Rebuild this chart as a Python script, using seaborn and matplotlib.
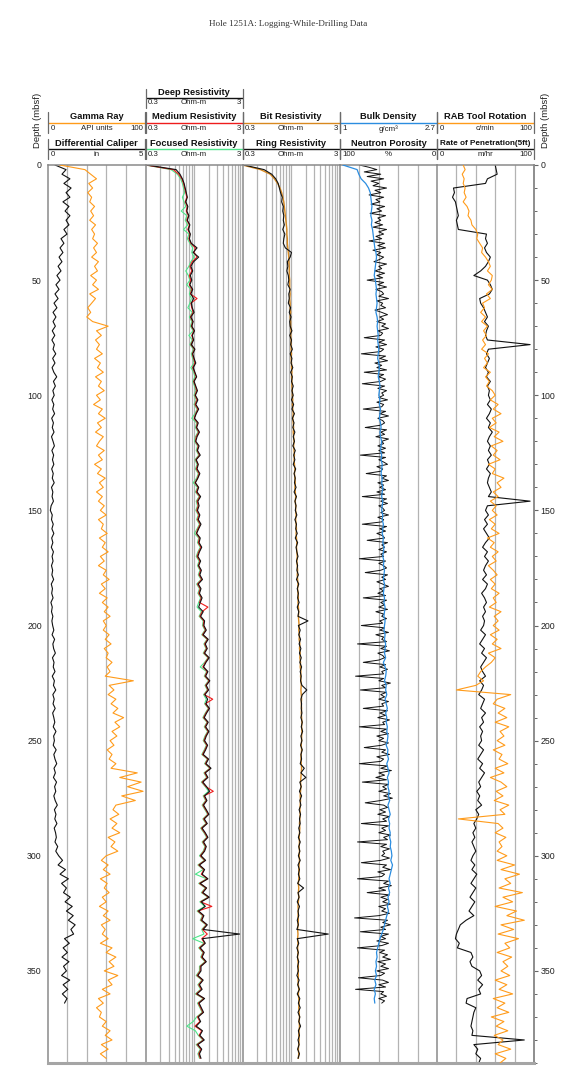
import numpy as np
import matplotlib
matplotlib.use("Agg")
import matplotlib.pyplot as plt
import seaborn as sns
from matplotlib.ticker import MultipleLocator

sns.set_style("white")
plt.rcParams['font.family'] = ['Liberation Sans', 'DejaVu Sans']

# ---------------- data ----------------
DEPTH = np.arange(0, 392, 2)    # 2 m sampling grid (mbsf)
DEPTH1 = np.arange(0, 392, 1)   # 1 m sampling grid (mbsf)

CALIPER = [0.36,0.93,0.72,1.13,0.82,1.19,0.93,1.13,0.77,1.08,0.88,1.13,0.93,1.08,0.82,0.98,0.67,0.82,0.62,0.77,
           0.57,0.72,0.52,0.67,0.46,0.62,0.41,0.57,0.36,0.52,0.31,0.46,0.26,0.41,0.26,
           0.38,0.22,0.35,0.20,0.33,0.26,0.40,0.24,0.36,0.21,0.30,0.45,0.28,0.38,0.25,
           0.32,0.20,0.30,0.24,0.34,0.19,0.28,0.22,0.31,0.18,0.26,0.33,0.20,0.29,0.23,0.30,0.19,0.27,0.22,0.32,0.18,0.25,0.21,0.28,0.16,
           0.12,0.22,0.18,0.27,0.20,0.30,0.19,0.25,0.17,0.28,0.21,0.26,0.18,0.24,0.20,0.29,0.17,0.23,0.19,0.26,0.15,0.22,0.18,0.25,0.20,
           0.24,0.30,0.21,0.34,0.25,0.29,0.38,0.23,0.31,0.27,0.36,0.22,0.33,0.28,0.40,0.25,0.32,0.26,0.37,0.24,0.30,0.35,0.27,0.41,0.29,
           0.33,0.27,0.42,0.30,0.36,0.45,0.31,0.38,0.28,0.44,0.34,0.40,0.30,0.37,0.48,0.33,0.41,0.35,0.46,0.32,0.39,0.43,0.36,0.50,0.40,
           0.55,0.75,0.52,0.90,0.62,1.05,0.70,0.95,0.80,1.15,0.88,1.25,0.95,1.30,1.05,1.40,1.18,1.32,0.85,1.10,0.78,1.00,0.72,1.08,0.80,
           0.95,0.70,1.12,0.78,1.02,0.74,0.98,0.85]

GAMMA = [12,38,44,50,42,46,41,45,43,48,44,47,43,49,45,48,46,51,47,50,45,52,48,51,44,50,46,52,43,49,45,41,44,40,46,62,50,55,49,53,
         50,56,48,54,51,57,49,55,52,58,50,54,47,56,52,59,51,55,49,57,53,50,58,52,56,48,55,51,59,53,57,50,56,52,58,
         54,60,52,57,55,61,53,59,56,62,54,58,52,60,57,63,55,59,53,61,56,62,58,64,57,
         60,57,63,59,65,58,62,60,66,61,64,59,88,63,68,62,70,65,72,67,78,69,74,66,71,
         64,68,61,66,63,70,65,92,74,96,82,98,76,90,70,67,73,64,71,66,74,62,69,65,72,
         60,55,62,57,64,54,61,58,63,56,60,53,62,57,64,55,59,56,62,54,66,60,70,63,68,
         58,72,62,66,56,64,52,57,50,55,53,60,56,64,59,66,55,62,54,60]

RES_DEEP = [0.31,0.62,0.68,0.72,0.75,0.77,0.79,0.81,0.78,0.82,0.80,0.84,0.81,0.86,0.83,0.87,0.85,0.89,1.02,0.93,1.06,0.94,0.88,0.92,0.87,
            0.90,0.86,0.92,0.88,0.94,0.89,0.91,0.95,0.88,0.93,0.90,0.96,0.91,0.94,0.89,0.97,0.92,0.95,0.99,0.93,0.97,1.01,0.95,0.99,1.03,
            0.98,1.04,0.99,1.06,1.00,0.96,1.05,1.01,1.08,1.02,0.99,1.07,1.03,1.10,1.00,1.05,1.02,1.09,1.04,0.98,1.06,1.02,1.11,1.04,1.07,
            1.03,1.09,1.05,1.12,1.06,1.01,1.10,1.07,1.14,1.08,1.04,1.11,1.06,1.13,1.09,1.16,1.05,1.12,1.08,1.15,1.10,1.06,1.18,1.11,1.22,
            1.20,1.27,1.18,1.33,1.24,1.30,1.22,1.36,1.26,1.19,1.32,1.25,1.38,1.27,1.34,1.23,1.31,1.26,1.37,1.28,1.21,1.33,1.25,1.35,1.27,
            1.22,1.31,1.25,1.18,1.34,1.26,1.42,1.24,1.32,1.17,1.28,1.37,1.22,1.29,1.19,1.27,1.35,1.21,1.30,1.15,1.24,1.32,1.19,1.27,1.22,
            1.12,1.25,1.08,1.22,1.15,1.32,1.10,1.28,1.17,1.36,1.13,1.24,1.06,1.20,1.14,1.30,1.18,2.80,1.16,1.24,1.10,1.21,1.15,1.27,1.12,
            1.12,1.04,1.18,1.08,1.15,1.02,1.22,1.07,1.13,1.19,1.05,1.11,1.00,1.16,1.09,1.21,1.04,1.14,1.08,1.12]

RES_MED = [0.30,0.58,0.66,0.71,0.74,0.76,0.78,0.80,0.77,0.81,0.79,0.83,0.80,0.85,0.82,0.86,0.84,0.88,0.98,0.95,1.02,0.91,0.86,0.90,0.85,
           0.88,0.85,0.90,0.87,1.02,0.88,0.90,0.93,0.87,0.92,0.89,0.95,0.90,0.93,0.88,0.96,0.91,0.94,0.97,0.92,0.96,1.00,0.94,0.98,1.01,
           0.97,1.02,0.97,1.04,0.99,0.95,1.03,1.00,1.06,1.00,0.98,1.05,1.02,1.08,0.99,1.04,1.00,1.07,1.03,0.97,1.05,1.00,1.09,1.02,1.05,
           1.01,1.07,1.03,1.10,1.04,1.00,1.08,1.05,1.12,1.06,1.02,1.09,1.05,1.11,1.07,1.14,1.03,1.10,1.06,1.13,1.08,1.32,1.15,1.09,1.20,
           1.18,1.25,1.16,1.31,1.22,1.28,1.20,1.34,1.24,1.17,1.30,1.23,1.36,1.25,1.32,1.21,1.48,1.24,1.35,1.26,1.19,1.31,1.23,1.33,1.25,
           1.20,1.29,1.23,1.16,1.32,1.24,1.40,1.22,1.30,1.15,1.26,1.50,1.20,1.27,1.17,1.25,1.33,1.19,1.28,1.13,1.22,1.30,1.17,1.25,1.20,
           1.10,1.23,1.06,1.20,1.13,1.30,1.08,1.26,1.15,1.34,1.11,1.45,1.04,1.18,1.12,1.28,1.16,1.30,1.14,1.22,1.08,1.19,1.13,1.25,1.10,
           1.10,1.02,1.16,1.06,1.13,1.00,1.20,1.05,1.11,1.17,1.03,1.09,0.97,1.14,1.07,1.19,1.02,1.12,1.06,1.10]

RES_FOC = [0.30,0.55,0.64,0.69,0.72,0.74,0.76,0.72,0.75,0.78,0.70,0.80,0.77,0.82,0.74,0.84,0.81,0.86,0.92,0.90,0.95,0.88,0.84,0.78,0.83,
           0.86,0.80,0.88,0.85,0.89,0.86,0.82,0.91,0.85,0.90,0.87,0.93,0.84,0.91,0.86,0.94,0.89,0.92,0.95,0.88,0.94,0.97,0.92,0.96,0.99,
           0.95,1.00,0.95,1.02,0.97,0.90,1.01,0.98,1.04,0.98,0.96,1.03,1.00,1.06,0.97,1.02,0.98,1.05,1.01,0.93,1.03,0.98,1.07,1.00,1.03,
           0.99,1.05,1.01,1.08,1.02,0.96,1.06,1.03,1.10,1.04,1.00,1.07,1.03,1.09,1.05,1.12,1.01,1.08,1.04,1.11,1.06,1.02,1.13,1.07,1.18,
           1.16,1.23,1.14,1.29,1.20,1.26,1.18,1.32,1.22,1.10,1.28,1.21,1.34,1.23,1.30,1.19,1.27,1.22,1.33,1.24,1.17,1.29,1.21,1.31,1.23,
           1.18,1.27,1.21,1.14,1.30,1.22,1.38,1.20,1.28,1.13,1.24,1.34,1.18,1.25,1.15,1.23,1.31,1.17,1.26,1.11,1.20,1.28,1.15,1.23,1.18,
           1.08,1.21,1.04,1.18,0.98,1.28,1.06,1.24,1.13,1.32,1.09,1.22,1.02,1.16,1.10,1.26,1.14,1.20,0.92,1.20,1.06,1.17,1.11,1.23,1.08,
           1.08,1.00,1.14,1.04,1.11,0.98,1.18,1.03,1.09,1.15,1.01,0.93,0.80,0.98,1.05,1.17,1.00,1.10,1.04,1.08]

RES_BIT = [0.30,0.46,0.58,0.64,0.69,0.73,0.76,0.78,0.80,0.81,0.82,0.83,0.84,0.85,0.86,0.86,0.87,0.87,0.88,0.89,0.90,0.90,0.91,0.91,0.91,
           0.92,0.92,0.92,0.93,0.92,0.93,0.93,0.94,0.93,0.94,0.94,0.95,0.94,0.95,0.95,0.95,0.96,0.95,0.96,0.96,0.97,0.96,0.97,0.97,0.98,
           0.98,0.99,0.98,0.99,1.00,0.99,1.00,1.01,1.00,1.01,1.02,1.01,1.02,1.03,1.02,1.03,1.04,1.03,1.04,1.05,1.04,1.05,1.06,1.05,1.06,
           1.06,1.07,1.06,1.07,1.08,1.07,1.08,1.09,1.08,1.09,1.10,1.09,1.10,1.11,1.10,1.11,1.12,1.11,1.12,1.13,1.12,1.13,1.14,1.13,1.14,
           1.15,1.14,1.16,1.15,1.17,1.16,1.18,1.17,1.19,1.18,1.20,1.19,1.20,1.21,1.20,1.21,1.22,1.21,1.22,1.21,1.22,1.23,1.22,1.23,1.22,
           1.22,1.21,1.22,1.21,1.20,1.21,1.22,1.21,1.20,1.19,1.20,1.19,1.18,1.19,1.18,1.17,1.18,1.17,1.16,1.17,1.16,1.15,1.16,1.15,1.16,
           1.15,1.16,1.15,1.14,1.15,1.14,1.13,1.14,1.13,1.14,1.13,1.12,1.13,1.12,1.13,1.12,1.11,1.12,1.11,1.12,1.11,1.12,1.11,1.12,1.13,
           1.12,1.13,1.12,1.13,1.14,1.13,1.14,1.15,1.14,1.15,1.16,1.15,1.16,1.15,1.14,1.15,1.14,1.13,1.14,1.13]

RES_RING = [0.31,0.50,0.60,0.66,0.70,0.72,0.74,0.77,0.76,0.79,0.78,0.80,0.79,0.81,0.78,0.82,0.80,0.79,0.83,0.96,0.93,0.87,0.88,0.86,0.89,
            0.90,0.88,0.93,0.90,0.91,0.89,0.94,0.91,0.95,0.92,0.93,0.97,0.92,0.96,0.94,0.98,0.93,0.97,0.95,0.99,0.94,0.98,0.96,1.00,0.97,
            1.00,0.96,1.01,0.97,1.03,0.98,1.02,0.99,1.04,1.00,1.03,0.99,1.05,1.01,1.04,1.00,1.06,1.02,1.05,1.03,1.07,1.02,1.08,1.04,1.07,
            1.05,1.09,1.04,1.08,1.06,1.10,1.05,1.11,1.07,1.09,1.12,1.08,1.11,1.09,1.13,1.08,1.14,1.10,1.13,1.11,1.15,1.10,1.14,1.12,1.42,
            1.13,1.18,1.14,1.19,1.15,1.20,1.16,1.21,1.17,1.22,1.18,1.21,1.19,1.23,1.38,1.24,1.20,1.22,1.21,1.23,1.20,1.24,1.21,1.25,1.20,
            1.23,1.19,1.24,1.20,1.22,1.18,1.30,1.20,1.35,1.17,1.21,1.16,1.22,1.17,1.20,1.15,1.19,1.16,1.18,1.14,1.17,1.13,1.18,1.14,1.17,
            1.13,1.18,1.12,1.16,1.13,1.17,1.11,1.28,1.12,1.15,1.10,1.16,1.12,1.14,1.10,1.13,1.09,2.30,1.10,1.14,1.09,1.13,1.10,1.14,1.11,
            1.13,1.09,1.15,1.11,1.16,1.10,1.17,1.13,1.18,1.12,1.17,1.14,1.19,1.13,1.16,1.12,1.15,1.11,1.16,1.12]

DENSITY = [1.05,1.30,1.33,1.37,1.45,1.50,1.53,1.54,1.55,1.56,1.55,1.54,1.56,1.55,1.57,1.58,1.59,1.60,1.61,1.63,1.64,1.63,1.62,1.61,1.60,
           1.62,1.63,1.64,1.63,1.64,1.65,1.64,1.63,1.65,1.66,1.65,1.66,1.67,1.66,1.67,1.68,1.67,1.66,1.68,1.69,1.68,1.67,1.69,1.70,1.69,
           1.68,1.70,1.69,1.71,1.70,1.69,1.71,1.72,1.70,1.71,1.73,1.72,1.71,1.73,1.72,1.74,1.73,1.72,1.74,1.73,1.75,1.74,1.73,1.75,1.74,
           1.73,1.75,1.74,1.76,1.75,1.74,1.76,1.75,1.77,1.76,1.75,1.77,1.76,1.78,1.77,1.76,1.78,1.77,1.76,1.78,1.77,1.79,1.78,1.77,1.79,
           1.78,1.77,1.79,1.78,1.80,1.79,1.78,1.80,1.76,1.79,1.81,1.80,1.78,1.81,1.80,1.82,1.79,1.81,1.83,1.80,1.82,1.81,1.83,1.82,1.84,
           1.83,1.81,1.84,1.83,1.85,1.82,1.84,1.86,1.83,1.85,1.84,1.86,1.85,1.87,1.84,1.86,1.88,1.85,1.87,1.86,1.88,1.87,1.89,1.88,1.90,
           1.91,1.89,1.92,1.90,1.88,1.86,1.88,1.85,1.87,1.84,1.86,1.83,1.85,1.82,1.80,1.78,1.76,1.73,1.70,1.68,1.66,1.64,1.65,1.63,1.64,
           1.62,1.64,1.61,1.63,1.60,1.62,1.60,1.61]

# neutron porosity (%), 1 m sampling
NEUTRON = [80,70,62,75,58,72,55,68,60,66,52,64,58,70,55,63,59,68,54,62,57,69,53,61,58,
           64,56,66,52,60,55,63,57,70,54,61,53,66,58,62,55,59,65,52,60,57,64,54,62,56,
           72,55,61,52,63,57,55,60,50,62,56,58,53,64,57,51,59,55,62,53,57,50,61,56,58,
           75,54,60,52,63,55,58,78,53,59,51,64,57,62,52,75,55,60,53,58,77,54,61,52,57,
           55,60,51,62,55,57,76,53,59,50,61,56,54,58,74,52,58,54,63,50,57,55,61,53,60,
           54,79,53,60,55,51,62,56,58,73,52,57,50,61,55,59,53,62,54,77,52,58,51,60,56,
           54,58,50,61,55,57,77,52,59,53,62,56,54,72,51,57,54,60,52,58,55,80,53,60,55,
           52,58,74,51,57,53,62,56,50,59,55,61,53,76,52,58,54,60,51,63,55,57,52,59,56,
           78,54,59,50,63,55,57,52,82,52,58,49,61,56,54,60,76,53,59,51,57,55,84,55,60,
           48,57,53,79,52,58,54,60,50,57,55,76,51,59,53,61,49,56,54,80,52,58,50,62,55,
           60,50,57,75,53,57,49,62,55,58,80,51,58,47,60,54,63,52,77,50,56,52,60,48,55,
           46,58,74,55,51,59,53,61,49,56,52,78,50,57,53,60,48,55,51,82,52,58,49,56,54,
           57,49,58,78,52,56,48,61,54,57,82,50,55,47,60,53,72,49,58,51,56,48,60,53,57,
           49,60,85,51,56,48,58,53,79,50,58,53,62,50,57,82,54,59,51,56,48,61,53,58,50,
           62,54,58,81,56,50,60,53,84,55,58,52,60,54,57]

RAB_ROT = [27,29,26,28,27,29,28,30,27,31,33,32,35,36,40,42,41,44,47,46,50,53,55,52,57,
           56,53,57,51,55,47,49,45,50,46,52,48,51,47,50,46,53,49,52,48,55,50,54,51,57,
           60,55,63,58,66,57,61,54,64,59,68,56,62,58,65,53,60,57,69,62,66,58,63,55,61,
           57,62,54,60,56,64,52,59,55,63,57,61,53,58,62,55,60,56,64,58,61,54,66,59,63,
           58,64,55,62,57,66,53,60,56,50,45,42,48,40,20,76,62,58,70,63,72,60,74,65,69,
           62,70,58,67,64,73,60,69,55,66,72,61,68,59,74,65,70,22,63,68,60,71,64,67,62,
           72,62,80,66,85,70,76,64,88,68,78,60,82,72,90,66,79,63,84,70,75,62,77,68,73,
           66,75,60,72,64,78,58,70,62,74,56,69,61,73,59,68,63,76,60,71,65]

ROP = [60,61,62,52,50,17,18,16,19,20,21,22,20,21,22,51,50,52,49,51,55,53,50,45,38,
       52,55,57,54,44,45,48,50,52,49,53,51,50,52,96,53,51,54,52,50,53,51,55,52,54,
       53,55,52,56,54,51,55,53,57,54,52,55,53,56,52,54,51,55,53,52,54,56,53,96,52,
       50,53,49,52,48,51,54,50,47,52,49,53,50,48,51,47,52,50,46,49,51,48,50,47,49,
       48,45,50,47,44,49,46,51,48,45,47,50,44,48,46,43,49,47,45,50,46,48,44,47,45,
       46,43,48,45,42,47,44,49,46,43,45,41,44,42,46,40,43,41,38,40,37,39,36,38,40,
       37,35,39,36,41,38,35,40,37,34,39,36,33,38,30,24,22,20,19,23,21,35,37,34,36,
       44,46,42,47,43,45,31,30,40,38,37,36,35,37,36,90,38,42,40,45,43]

DEPTH_TICKS = [0, 50, 100, 150, 200, 250, 300, 350]

# ---------------- colours ----------------
ORANGE = '#ff9b1a'
BITC = '#d8891f'
RED = '#ee1c1c'
GREEN = '#4fe58a'
BLUE = '#2b8de0'
BLACK = '#111111'
GRID = '#b3b3b3'
SPINE = '#8a8a8a'

# ---------------- figure & layout (pixel based) ----------------
W, H = 576, 1090
fig = plt.figure(figsize=(W / 100, H / 100), dpi=100)
TOP, BOT = 165, 1063
LEFTS = [48, 145.5, 242.5, 340, 437]
TW = 97
YMAX = 390


def add_track(L):
    return fig.add_axes([L / W, 1 - BOT / H, TW / W, (BOT - TOP) / H])


def draw(ax, vals, color, lw=0.8, grid=DEPTH):
    d = grid[:len(vals)]
    sns.lineplot(x=np.asarray(vals, dtype=float), y=d, orient='y', sort=False,
                 estimator=None, color=color, lw=lw, ax=ax, legend=False)
    ax.set_xlabel('')
    ax.set_ylabel('')


def twin(ax, lo, hi, log=False):
    a2 = ax.twiny()
    if log:
        a2.set_xscale('log')
    a2.set_xlim(lo, hi)
    for s in a2.spines.values():
        s.set_visible(False)
    a2.tick_params(top=False, labeltop=False, bottom=False, labelbottom=False)
    return a2


axes = [add_track(L) for L in LEFTS]

LIN_FR = [0.2, 0.4, 0.6, 0.8]
LOG_FR = [np.log10(k) / 2 for k in range(2, 11)] + [0.5 + np.log10(k) / 2 for k in range(2, 10)]

# Track 1: caliper (black, 0-5 in) + gamma (orange, 0-100 API)
a = axes[0]
a.set_xlim(0, 5)
for f in LIN_FR:
    a.axvline(5 * f, color=GRID, lw=0.9, zorder=0.5)
draw(a, CALIPER, BLACK)
a2 = twin(a, 0, 100)
draw(a2, GAMMA, ORANGE)

# Track 2: resistivities (log 0.3-3)
a = axes[1]
a.set_xscale('log')
a.set_xlim(0.3, 3)
for f in LOG_FR:
    a.axvline(0.3 * 10 ** f, color=GRID, lw=0.9, zorder=0.5)
draw(a, RES_FOC, GREEN)
draw(a, RES_MED, RED)
draw(a, RES_DEEP, BLACK)
a.set_xlim(0.3, 3)

# Track 3: bit + ring resistivity
a = axes[2]
a.set_xscale('log')
a.set_xlim(0.3, 3)
for f in LOG_FR:
    a.axvline(0.3 * 10 ** f, color=GRID, lw=0.9, zorder=0.5)
draw(a, RES_BIT, BITC, lw=1.0)
draw(a, RES_RING, BLACK)
a.set_xlim(0.3, 3)

# Track 4: neutron (100-0 %) + density (1-2.7)
a = axes[3]
a.set_xlim(100, 0)
for f in LIN_FR:
    a.axvline(100 - 100 * f, color=GRID, lw=0.9, zorder=0.5)
draw(a, NEUTRON, BLACK, lw=0.7, grid=DEPTH1)
a2 = twin(a, 1, 2.7)
draw(a2, DENSITY, BLUE, lw=0.9)

# Track 5: ROP (black) + RAB rotation (orange)
a = axes[4]
a.set_xlim(0, 100)
for f in LIN_FR:
    a.axvline(100 * f, color=GRID, lw=0.9, zorder=0.5)
draw(a, ROP, BLACK)
a2 = twin(a, 0, 100)
draw(a2, RAB_ROT, ORANGE)
a.set_xlim(0, 100)

for i, a in enumerate(axes):
    a.set_ylim(YMAX, 0)
    a.set_xticks([])
    a.xaxis.set_minor_locator(matplotlib.ticker.NullLocator())
    a.set_yticks(DEPTH_TICKS)
    a.yaxis.set_minor_locator(MultipleLocator(10))
    for side in ['left', 'top', 'right', 'bottom']:
        a.spines[side].set_color(SPINE)
        a.spines[side].set_linewidth(1.1)
    a.spines['bottom'].set_linewidth(2.2)
    a.spines['bottom'].set_color('#a5a5a5')
    if i < 4:
        a.spines['right'].set_visible(False)
    if i == 0:
        a.tick_params(axis='y', which='major', direction='out', length=3, width=0.8,
                      color='#666666', labelsize=6.3, pad=1.5, labelcolor='#222222')
        a.tick_params(axis='y', which='minor', direction='out', length=2, width=0.7, color='#666666')
    else:
        a.tick_params(axis='y', which='both', direction='inout', length=5, width=0.7,
                      color='#777777', labelleft=False)
    a.set_facecolor('none')

sec = axes[4].secondary_yaxis('right')
sec.set_yticks(DEPTH_TICKS)
sec.yaxis.set_minor_locator(MultipleLocator(10))
sec.tick_params(axis='y', which='major', direction='out', length=3, width=0.8,
                color='#666666', labelsize=6.3, pad=1.5, labelcolor='#222222')
sec.tick_params(axis='y', which='minor', direction='out', length=2, width=0.7, color='#666666')
sec.spines['right'].set_color(SPINE)
sec.spines['right'].set_linewidth(1.1)

# ---------------- header overlay ----------------
ov = fig.add_axes([0, 0, 1, 1])
ov.set_xlim(0, W)
ov.set_ylim(H, 0)
ov.axis('off')

ROWS = {1: (92.7, 97.7, 102.9, 88.5, 107.5),
        2: (116.8, 122.7, 129.0, 112.0, 133.0),
        3: (143.4, 149.3, 155.0, 138.5, 158.5)}

HEADERS = [
    (0, 2, 'Gamma Ray', ORANGE, '0', 'API units', '100', 6.7),
    (0, 3, 'Differential Caliper', BLACK, '0', 'in', '5', 6.7),
    (1, 1, 'Deep Resistivity', BLACK, '0.3', 'Ohm-m', '3', 6.7),
    (1, 2, 'Medium Resistivity', RED, '0.3', 'Ohm-m', '3', 6.7),
    (1, 3, 'Focused Resistivity', GREEN, '0.3', 'Ohm-m', '3', 6.7),
    (2, 2, 'Bit Resistivity', BITC, '0.3', 'Ohm-m', '3', 6.7),
    (2, 3, 'Ring Resistivity', BLACK, '0.3', 'Ohm-m', '3', 6.7),
    (3, 2, 'Bulk Density', BLUE, '1', 'g/cm³', '2.7', 6.7),
    (3, 3, 'Neutron Porosity', BLACK, '100', '%', '0', 6.7),
    (4, 2, 'RAB Tool Rotation', ORANGE, '0', 'c/min', '100', 6.7),
    (4, 3, 'Rate of Penetration(5ft)', BLACK, '0', 'm/hr', '100', 5.9),
]

for ti, row, title, col, lo, unit, hi, fs in HEADERS:
    L = LEFTS[ti]
    R = L + TW
    cx = (L + R) / 2
    ty, ly, sy, b0, b1 = ROWS[row]
    ov.text(cx, ty, title, ha='center', va='center', fontsize=fs, fontweight='bold', color='#111111')
    ov.plot([L, R], [ly, ly], color=col, lw=1.0, solid_capstyle='butt')
    ov.text(L + 2.5, sy, lo, ha='left', va='center', fontsize=5.7, color='#222222')
    ov.text(cx, sy, unit, ha='center', va='center', fontsize=5.7, color='#222222')
    ov.text(R - 1.5, sy, hi, ha='right', va='center', fontsize=5.7, color='#222222')
    ov.plot([L, L], [b0, b1], color='#6a6a6a', lw=0.9)
    ov.plot([R, R], [b0, b1], color='#6a6a6a', lw=0.9)

ov.text(37, 120.5, 'Depth (mbsf)', rotation=90, ha='center', va='center', fontsize=6.8, color='#222222')
ov.text(546, 120.5, 'Depth (mbsf)', rotation=90, ha='center', va='center', fontsize=6.8, color='#222222')
ov.text(288, 24.5, 'Hole 1251A: Logging-While-Drilling Data', ha='center', va='center',
        fontsize=6.6, family=['Liberation Serif', 'DejaVu Serif'], color='#333333')

fig.savefig('out.png', dpi=100, facecolor='white')
